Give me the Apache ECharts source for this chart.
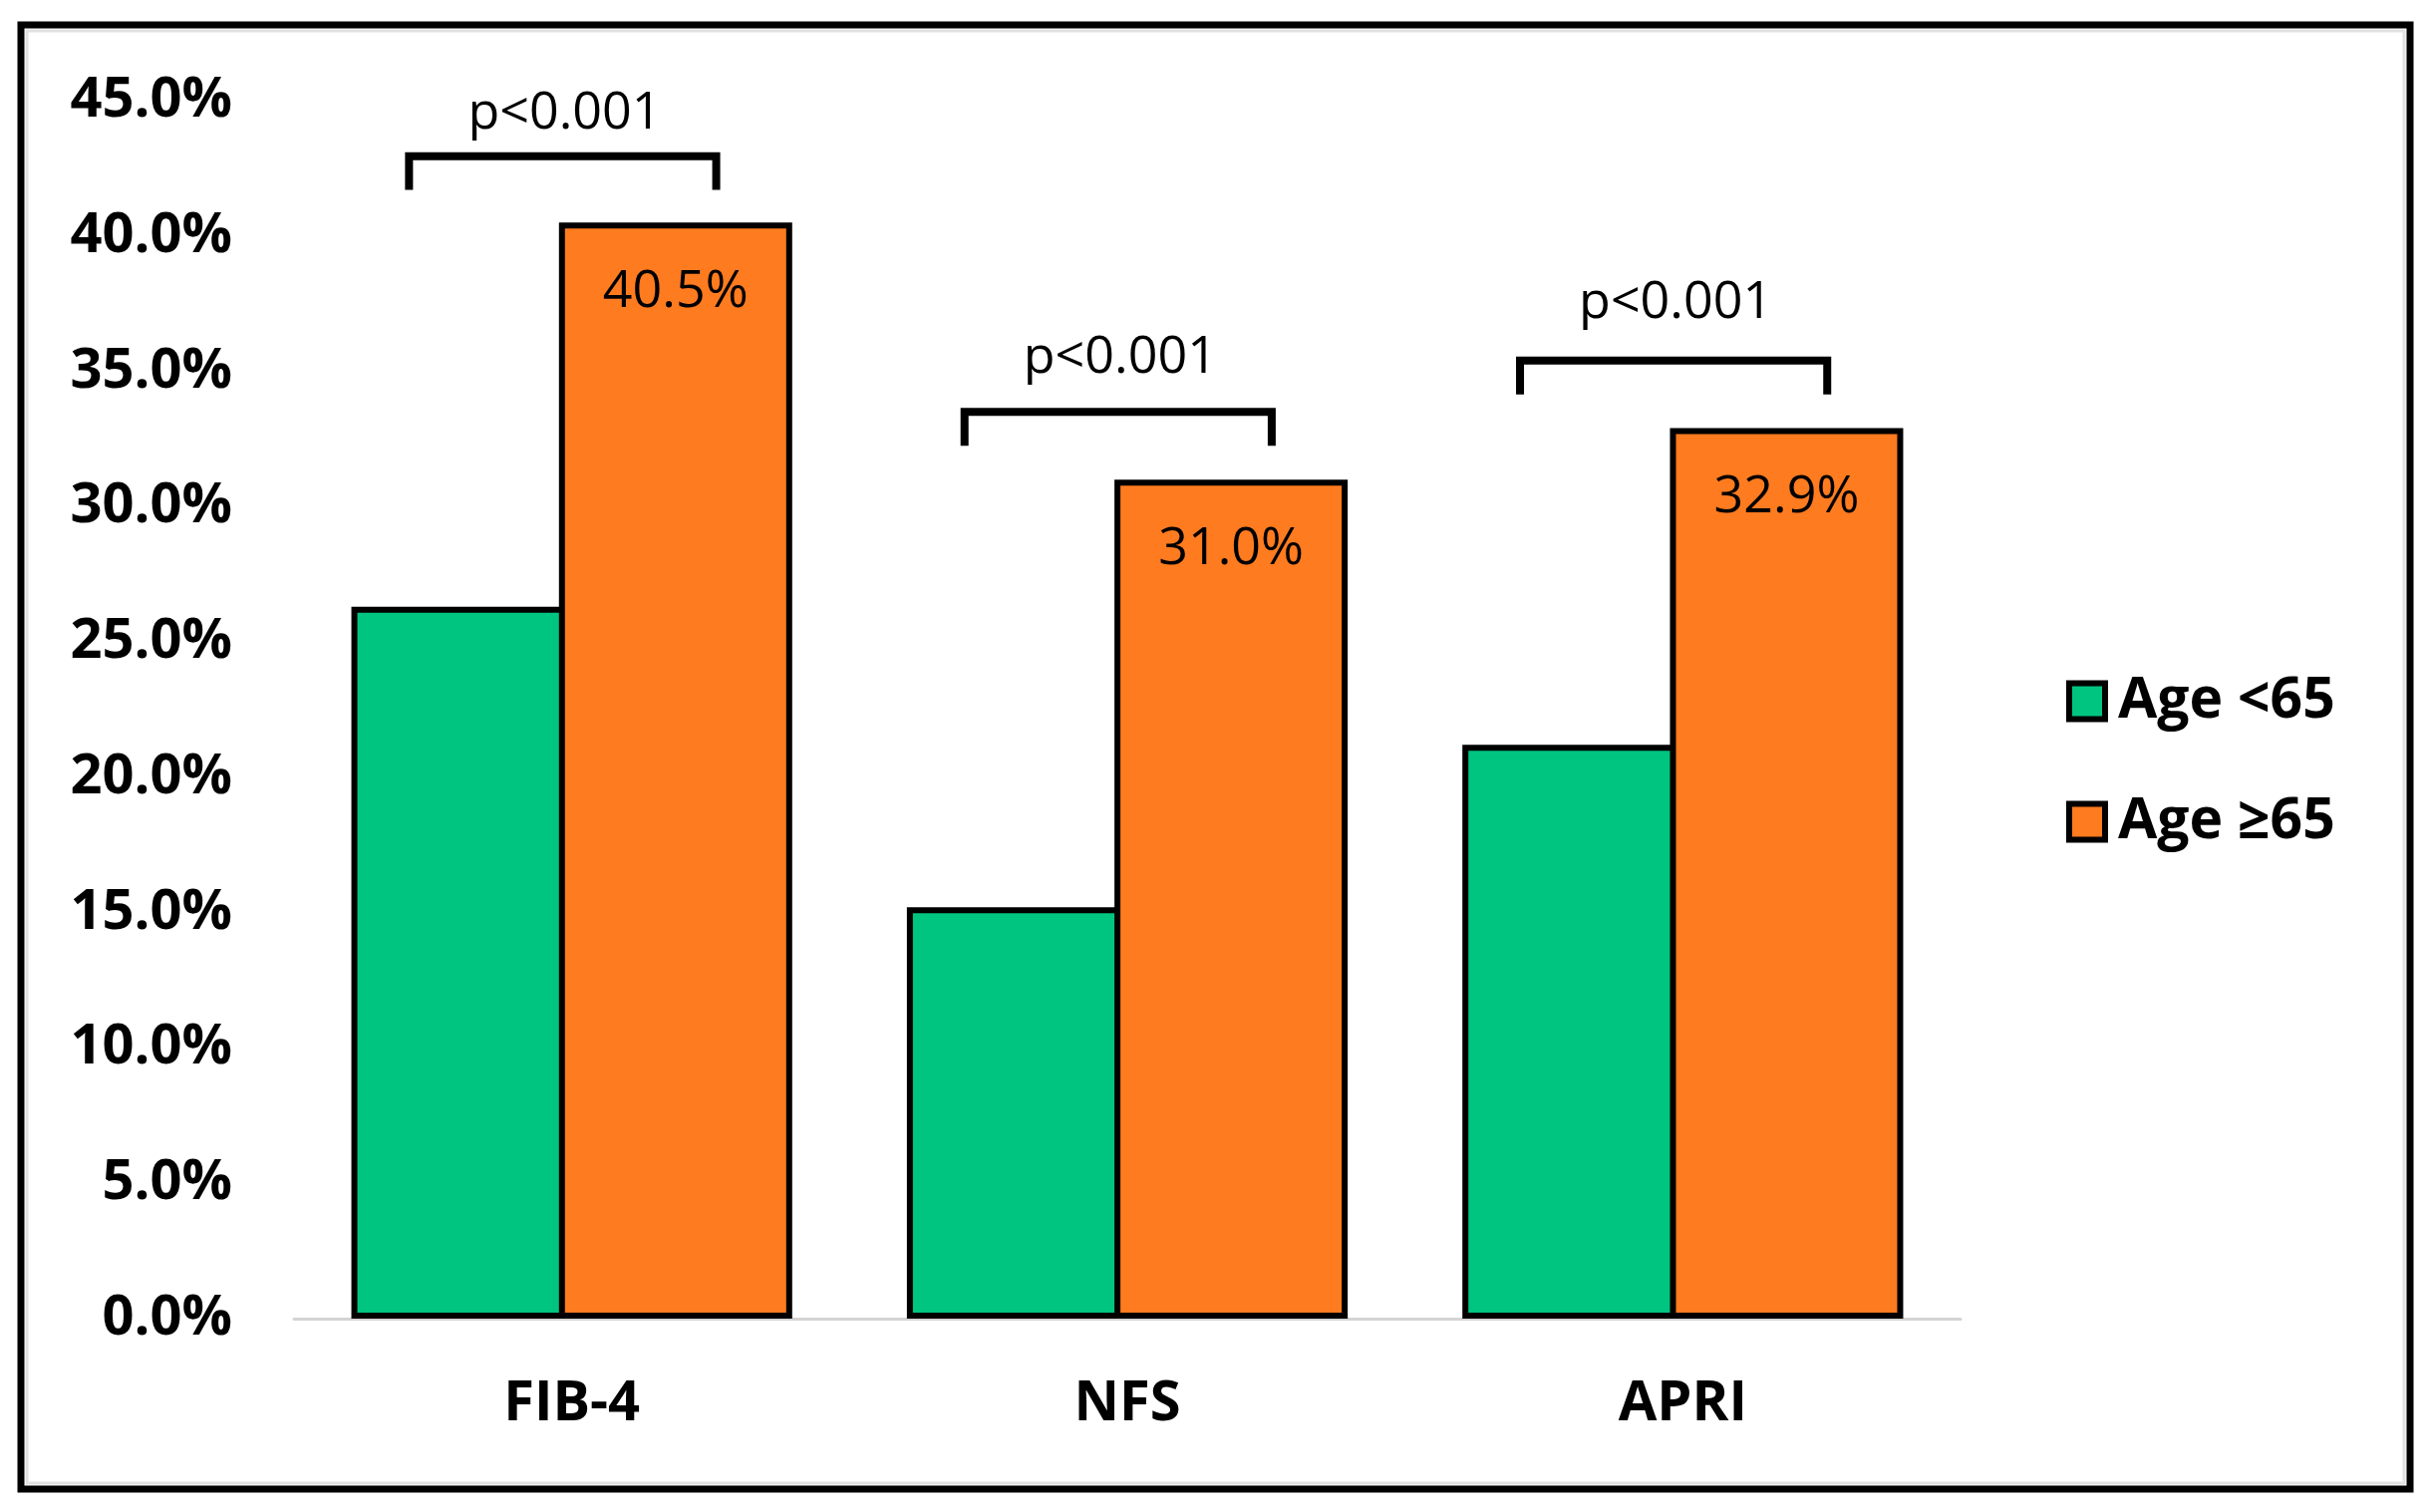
<!DOCTYPE html>
<html>
<head>
<meta charset="utf-8">
<script src="https://cdn.jsdelivr.net/npm/echarts@6/dist/echarts.min.js"></script>
<style>
html,body{margin:0;padding:0;background:#fff;}
#chart{width:2437px;height:1517px;}
</style>
</head>
<body>
<div id="chart"></div>
<script>
// ---- data ----
const categories = ['FIB-4', 'NFS', 'APRI'];
const seriesNames = ['Age <65', 'Age \u226565'];
const youngValues = [26.3, 15.2, 21.2];
const oldValues = [40.5, 31.0, 32.9];
const pValueTexts = ['p<0.001', 'p<0.001', 'p<0.001'];
const bracketTop = [42.95, 33.5, 35.4];
const bracketLegBottom = [41.7, 32.25, 34.15];
const pLabelY = [44.5, 35.5, 37.5];
const yTicks = [0, 5, 10, 15, 20, 25, 30, 35, 40, 45];

const FONT = "'Open Sans', 'Noto Sans', 'DejaVu Sans', sans-serif";
const GREEN = '#00C580';
const ORANGE = '#FF7B1F';

const bracketData = categories.map((c, i) => [i, bracketTop[i], bracketLegBottom[i], pLabelY[i], pValueTexts[i]]);

const chart = echarts.init(document.getElementById('chart'));
chart.setOption({
  backgroundColor: '#fff',
  animation: false,
  graphic: [
    { type: 'rect', shape: { x: 21, y: 25, width: 2397, height: 1469 }, style: { fill: 'none', stroke: '#000', lineWidth: 7 }, z: 100 },
    { type: 'rect', shape: { x: 27, y: 31, width: 2385, height: 1457 }, style: { fill: 'none', stroke: '#e2e2e2', lineWidth: 3 }, z: 99 }
  ],
  grid: { left: 295, right: 470, top: 101, bottom: 194, containLabel: false },
  legend: {
    data: seriesNames,
    orient: 'vertical',
    left: 2073,
    top: 675,
    itemWidth: 36,
    itemHeight: 36,
    itemGap: 64,
    padding: 0,
    icon: 'rect',
    itemStyle: { borderColor: '#000', borderWidth: 6 },
    textStyle: { fontFamily: FONT, fontWeight: 'bold', fontSize: 57, color: '#000', padding: [0, 0, 0, 8] }
  },
  xAxis: {
    type: 'category',
    data: categories,
    axisLine: { show: true, lineStyle: { color: '#d4d4d4', width: 3 } },
    axisTick: { show: false },
    axisLabel: { fontFamily: FONT, fontWeight: 'bold', fontSize: 56, color: '#000', margin: 58 }
  },
  yAxis: {
    type: 'value',
    min: 0,
    max: 45,
    interval: 5,
    splitLine: { show: false },
    axisLine: { show: false },
    axisTick: { show: false },
    axisLabel: {
      fontFamily: FONT, fontWeight: 'bold', fontSize: 56, color: '#000', margin: 62,
      formatter: v => yTicks.indexOf(v) >= 0 ? v.toFixed(1) + '%' : ''
    }
  },
  series: [
    {
      name: seriesNames[0],
      type: 'bar',
      data: youngValues,
      barWidth: 234,
      barGap: '-11%',
      itemStyle: { color: GREEN, borderColor: '#000', borderWidth: 6 },
      z: 2
    },
    {
      name: seriesNames[1],
      type: 'bar',
      data: oldValues,
      barWidth: 234,
      barGap: '-11%',
      itemStyle: { color: ORANGE, borderColor: '#000', borderWidth: 6 },
      z: 3,
      label: {
        show: true,
        position: 'insideTop',
        distance: 44,
        formatter: p => p.value.toFixed(1) + '%',
        fontFamily: FONT,
        fontSize: 52,
        color: '#000'
      }
    },
    {
      type: 'custom',
      name: 'brackets',
      data: bracketData,
      encode: { x: 0, y: [1, 2, 3] },
      clip: false,
      z: 5,
      silent: true,
      renderItem: function (params, api) {
        const idx = api.value(0);
        const top = api.coord([idx, api.value(1)]);
        const bot = api.coord([idx, api.value(2)]);
        const lab = api.coord([idx, api.value(3)]);
        const band = api.size([1, 0])[0];
        const x1 = top[0] - band * 0.293;
        const x2 = top[0] + band * 0.26;
        return {
          type: 'group',
          children: [
            {
              type: 'polyline',
              shape: { points: [[x1, bot[1]], [x1, top[1]], [x2, top[1]], [x2, bot[1]]] },
              style: { stroke: '#000', lineWidth: 8, fill: 'none', lineJoin: 'miter' }
            },
            {
              type: 'text',
              style: {
                x: (x1 + x2) / 2 + 2,
                y: lab[1],
                text: pValueTexts[idx],
                font: '52px ' + FONT,
                fill: '#000',
                align: 'center',
                verticalAlign: 'middle'
              }
            }
          ]
        };
      }
    }
  ]
});
</script>
</body>
</html>
